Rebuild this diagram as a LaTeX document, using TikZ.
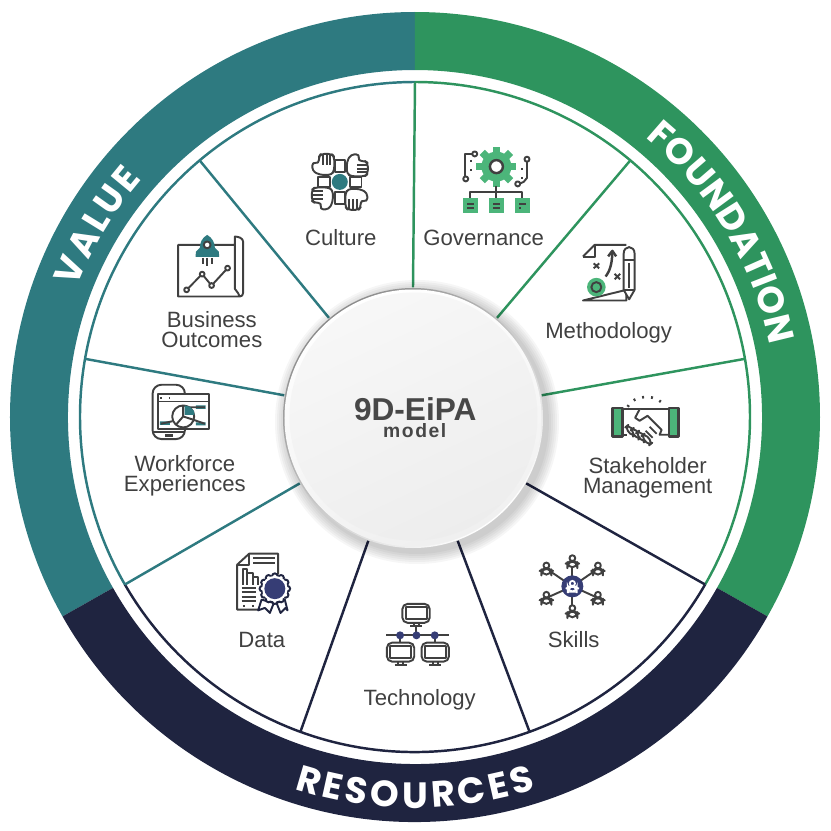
\documentclass[tikz,border=0pt]{standalone}
\usepackage{fontspec}
\usepackage{tikz}
\usetikzlibrary{decorations.text}
\setmainfont{Liberation Sans}
\newfontfamily\ringfont{Poppins}
\definecolor{mteal}{rgb}{0.18, 0.48, 0.50}
\definecolor{mgreen}{rgb}{0.18, 0.58, 0.37}
\definecolor{mnavy}{rgb}{0.12, 0.14, 0.25}
\definecolor{mleaf}{rgb}{0.30, 0.71, 0.48}
\definecolor{mblue}{rgb}{0.21, 0.24, 0.46}
\definecolor{mink}{rgb}{0.25, 0.25, 0.25}
\tikzset{
  iconline/.style = {draw = mink, line width = 0.55pt, line join = round},
  lbl/.style = {text = mink, inner sep = 0, align = center, font = \fontsize{6.3}{5.75}\selectfont},
  spoke/.style = {line width = 0.7pt},
  ringtext/.style = {decorate, decoration = {text along path, text align = fit to path, text color = white,
    text = {|\ringfont\bfseries\fontsize{#1}{12}\selectfont|}}},
}
\newcommand{\ringband}[3]{\fill [#1] (#2:4.05) arc (#2:#3:4.05) -- (#3:3.47) arc (#3:#2:3.47) -- cycle;}
\newcommand{\personpiece}[1]{%
  \draw [#1, fill = white] (0, -3.2) circle [radius = 2.9];
  \draw [#1, fill = white, rounded corners = 1.5] (-5, 6) -- (-5, 1.5) -- (-2, 0.2) -- (2, 0.2) -- (5, 1.5) -- (5, 6) -- cycle;
}
\newcommand{\monitorpiece}{%
  \draw [iconline, fill = white, rounded corners = 1.5] (-13.7, -9.5) rectangle (13.7, 9.5);
  \draw [iconline] (-10.5, -6.5) rectangle (10.5, 6);
  \draw [iconline] (-2.5, 9.5) -- (-2.5, 13) (2.5, 9.5) -- (2.5, 13) (-6, 13) -- (6, 13);
}
\begin{document}
\begin{tikzpicture}
  \useasboundingbox (-4.15, 4.17) rectangle (4.15, -4.14);

  \ringband{mteal}{90}{209.5}
  \ringband{mgreen}{90}{-29.5}
  \ringband{mnavy}{-29.5}{-150.5}
  \path [ringtext = 10.4] (159:3.62) arc (159:139:3.62) node [pos = 0] {};
  \path [decorate, decoration = {text along path, text align = fit to path, text color = white,
    text = {|\ringfont\bfseries\fontsize{10.4}{12}\selectfont|VALUE}}] (159:3.62) arc (159:139:3.62);
  \path [decorate, decoration = {text along path, text align = fit to path, text color = white,
    text = {|\ringfont\bfseries\fontsize{10.4}{12}\selectfont|FOUNDATION}}] (50.5:3.62) arc (50.5:11.5:3.62);
  \path [decorate, decoration = {text along path, text align = fit to path, text color = white,
    text = {|\ringfont\bfseries\fontsize{10.4}{12}\selectfont|RESOURCES}}] (252:3.91) arc (252:288:3.91);

  \draw [mteal, spoke] (90:3.35) arc (90:210:3.35);
  \draw [mgreen, spoke] (90:3.35) arc (90:-30:3.35);
  \draw [mnavy, spoke] (-30:3.35) arc (-30:-150:3.35);

  \node (hub) [circle, inner sep = 0, minimum size = 2.6cm] at (-0.02, -0.01) {};
  \foreach \a in {90, 50, 10}
    \draw [mgreen, spoke] (hub.\a) -- (\a:3.35);
  \foreach \a in {130, 170, 210}
    \draw [mteal, spoke] (hub.\a) -- (\a:3.35);
  \foreach \a in {-30, -70, -110}
    \draw [mnavy, spoke] (hub.\a) -- (\a:3.35);

  \foreach \r in {1.42, 1.40, ..., 1.30}
    \fill [black, opacity = 0.035] (0.02, -0.05) circle [radius = \r];
  \shade [left color = black!45, right color = white, shading angle = 40] (hub) circle [radius = 1.3];
  \shade [left color = white, right color = black!6, shading angle = 20] (hub) circle [radius = 1.285];
  \shade [top color = black!3, bottom color = black!7, shading angle = 25] (-0.015, 0.005) circle [radius = 1.24];

  \begin{scope}[shift = {(-4.15, 4.17)}, x = 0.01cm, y = -0.01cm]
    \node (title) [text = black!72, inner sep = 0, anchor = base, font = \bfseries\fontsize{9}{9}\selectfont] at (415.5, 420.5) {9D-EiPA};
    \node (subtitle) [text = black!72, inner sep = 0, anchor = base, font = \bfseries\fontsize{5.5}{6}\addfontfeature{LetterSpace = 8}\selectfont] at (415, 438) {model};

    \node (culture) [lbl, anchor = base] at (341, 246) {Culture};
    \node (governance) [lbl, anchor = base] at (484, 246) {Governance};
    \node (methodology) [lbl, anchor = base] at (609, 339) {Methodology};
    \node (stakeholder) [lbl] at (648, 478) {Stakeholder\\Management};
    \node (skills) [lbl, anchor = base] at (574, 648) {Skills};
    \node (technology) [lbl, anchor = base] at (420, 706) {Technology};
    \node (data) [lbl, anchor = base] at (262, 648) {Data};
    \node (workforce) [lbl] at (185, 476) {Workforce\\Experiences};
    \node (business) [lbl] at (212, 330) {Business\\Outcomes};

    % culture
    \foreach \r in {0, 90, 180, 270} {
      \begin{scope}[shift = {(340, 182)}, rotate = \r]
        \draw [iconline] (-5, -21.7) rectangle (5, -10);
        \draw [iconline, fill = white, rounded corners = 1] (-8, -7) -- (-5.5, -12) -- (-5.5, -25) -- (-8, -28) -- (-19, -28) -- (-21, -25) -- (-21, -18) -- (-27.5, -20) -- (-27.5, -11) -- (-20, -7) -- cycle;
        \draw [iconline] (-17, -27) -- (-17, -17) (-13, -27) -- (-13, -17) (-9.5, -27) -- (-9.5, -17);
      \end{scope}
    }
    \fill [mteal] (340, 182) circle [radius = 8];

    % governance
    \foreach \a in {0, 45, ..., 315}
      \fill [mleaf, rotate around = {\a:(496.7, 166.7)}] (493, 146.7) rectangle (500.4, 155);
    \fill [mleaf] (496.7, 166.7) circle [radius = 15];
    \draw [iconline, fill = white, line width = 0.7pt] (496.7, 166.7) circle [radius = 6.5];
    \draw [iconline] (472.5, 154) -- (465, 154) -- (465, 176.5);
    \draw [iconline, fill = white] (475, 154) circle [radius = 2.5] (466, 179) circle [radius = 2.5];
    \draw [iconline, dotted] (471.7, 160) -- (471.7, 171);
    \draw [iconline] (527.3, 162) -- (527.3, 178) -- (524, 182) -- (520.5, 183.5);
    \draw [iconline, fill = white] (527.3, 159.3) circle [radius = 2.5] (518, 184) circle [radius = 2.5];
    \draw [iconline, dotted] (522.7, 168) -- (522.7, 179);
    \draw [iconline] (496.7, 186) -- (496.7, 198) (470.7, 198) -- (470.7, 192) -- (522.7, 192) -- (522.7, 198);
    \foreach \x in {463.3, 489.3, 515.5}
      \fill [mleaf] (\x, 198.3) rectangle +(15, 15);
    \draw [iconline] (467.5, 204) -- (474, 204) (467.5, 208) -- (474, 208) (493.5, 204) -- (500, 204) (493.5, 208) -- (500, 208) (519.5, 204) -- (526, 204);
    \draw [iconline, dotted] (519.5, 208) -- (526, 208);

    % methodology
    \draw [iconline] (583.3, 256.7) -- (595, 245) -- (626.7, 245) (626.7, 290) -- (626.7, 300.7) -- (583.3, 300.7) -- cycle;
    \draw [iconline] (595, 245) -- (595, 256.7) -- (583.3, 256.7);
    \fill [mleaf] (596.7, 287.3) circle [radius = 9.3];
    \draw [iconline] (596.7, 287.3) circle [radius = 5];
    \draw [iconline] (594, 263.5) -- (599.5, 268.5) (599.5, 263.5) -- (594, 268.5) (615, 274) -- (620.5, 279.5) (620.5, 274) -- (615, 279.5);
    \draw [iconline, line width = 0.7pt] (606, 276.7) .. controls (611, 270) and (612.5, 262) .. (612.7, 252);
    \draw [iconline, line width = 0.7pt] (608.5, 256.5) -- (612.7, 251) -- (616.5, 256.5);
    \draw [iconline, fill = white] (624, 254) .. controls (624, 245) and (635, 245) .. (635, 254) -- (635, 290) -- (629.5, 299.5) -- (624, 290) -- cycle;
    \draw [iconline] (624, 260) -- (635, 260) (624, 290) -- (635, 290) (629.5, 263) -- (629.5, 288);

    % stakeholder management
    \draw [iconline, fill = mleaf, line width = 0.7pt] (612.7, 408.3) rectangle (622.7, 436.7);
    \draw [iconline, fill = mleaf, line width = 0.7pt] (669.3, 408.3) rectangle (679, 436.7);
    \draw [iconline, dotted, line width = 0.75pt] (628, 407) .. controls (634, 394) and (660, 394) .. (665, 407);
    \draw [iconline] (622.7, 409.5) -- (669.3, 409.5);
    \draw [iconline, fill = white] (640, 409.5) -- (635.5, 418) -- (640, 421) -- (648, 416) -- (662, 430) -- (660, 435) -- (669.3, 435);
    \draw [iconline] (622.7, 435) -- (627, 435);
    \foreach \i in {0, 1, 2, 3} {
      \draw [iconline, fill = white, rounded corners = 1.2, shift = {(631 + 5.4 * \i, 431 + 2.9 * \i)}, rotate = -50] (-6, -2.2) rectangle (6, 2.2);
    }
    \draw [iconline] (650, 427) -- (657, 434) (646, 431) -- (653, 438);

    % skills
    \foreach \x/\y in {572.7/561.7, 598.3/569, 598.3/598.3, 572.7/611.7, 546.7/598.3, 546.7/569}
      \draw [iconline] (572.7, 586.7) -- (\x, \y);
    \foreach \x/\y in {572.7/561.7, 598.3/569, 598.3/598.3, 572.7/611.7, 546.7/598.3, 546.7/569} {
      \begin{scope}[shift = {(\x, \y)}]
        \personpiece{iconline}
      \end{scope}
    }
    \fill [mblue] (572.7, 586.7) circle [radius = 11];
    \begin{scope}[shift = {(572.7, 586.7)}, scale = 0.9]
      \draw [white, line width = 0.5pt, fill = mblue] (0, -3.2) circle [radius = 2.9];
      \draw [white, line width = 0.5pt, rounded corners = 1.5] (-5, 6) -- (-5, 1.5) -- (-2, 0.2) -- (2, 0.2) -- (5, 1.5) -- (5, 6) -- cycle;
    \end{scope}

    % technology
    \draw [iconline] (386.7, 635.7) -- (449.3, 635.7) (416.7, 626) -- (416.7, 635.7) (400.3, 635.7) -- (400.3, 643.3) (435, 635.7) -- (435, 643.3);
    \foreach \x/\y in {416.3/613.7, 400.8/652.5, 435.5/652.5} {
      \begin{scope}[shift = {(\x, \y)}]
        \monitorpiece
      \end{scope}
    }
    \foreach \x in {400.3, 416.7, 435}
      \fill [mblue] (\x, 635.7) circle [radius = 4];

    % data
    \draw [iconline] (258, 610) -- (237.3, 610) -- (237.3, 565) -- (249.3, 554) -- (278.3, 554) -- (278.3, 575);
    \draw [iconline] (249.3, 554) -- (249.3, 565) -- (237.3, 565);
    \draw [iconline] (253.3, 558.3) -- (275, 558.3) (253.3, 563.3) -- (275, 563.3);
    \draw [iconline] (242.7, 585) -- (242.7, 569.3) -- (246.7, 569.3) -- (246.7, 585) (246.7, 573.3) -- (252.7, 573.3) -- (252.7, 585) (252.7, 577.7) -- (257.7, 577.7) -- (257.7, 585);
    \foreach \y in {588.3, 592.7, 597.3, 601.7}
      \draw [iconline] (241.7, \y) -- (256, \y);
    \draw [iconline, dotted] (243, 606.7) -- (254, 606.7);
    \draw [mnavy, line width = 0.55pt, fill = white, line join = round] (261.7, 600) -- (258.3, 610.7) -- (265, 608.3) -- (270, 613.3) -- (274, 603.3) -- cycle;
    \draw [mnavy, line width = 0.55pt, fill = white, line join = round] (276.7, 603.3) -- (280.7, 613.3) -- (285.7, 608.3) -- (287.7, 610.7) -- (285, 600) -- cycle;
    \foreach \a in {0, 30, ..., 330}
      \draw [mnavy, line width = 0.55pt, fill = white] (275, 589) ++(\a:12.5) circle [radius = 2.8];
    \fill [white] (275, 589) circle [radius = 12.8];
    \fill [mblue] (275, 589) circle [radius = 10.5];

    % workforce experiences
    \draw [iconline, rounded corners = 2.5] (152.7, 385) rectangle (185, 439.3);
    \draw [iconline] (152.7, 432) -- (185, 432);
    \draw [iconline, line width = 0.8pt] (165, 435.5) -- (173, 435.5);
    \draw [iconline, fill = white] (158.3, 394) rectangle (209, 429.3);
    \draw [iconline] (158.3, 401.7) -- (209, 401.7);
    \draw [iconline, dotted] (160, 397.8) -- (169, 397.8);
    \fill [mteal] (160, 421.7) rectangle (170, 425) (196, 405.7) rectangle (205.7, 409) (196, 422.7) rectangle (205.7, 425.5);
    \draw [iconline] (161, 424) -- (172.5, 421.5) (189, 407.5) -- (205, 407.5) (192, 419.5) -- (205, 424);
    \draw [iconline, fill = white] (183.3, 416.7) circle [radius = 11];
    \fill [mteal] (184.8, 415.2) -- (184.8, 405.7) -- (190, 407) -- (194, 411) -- (194.6, 415.2) -- cycle;
    \draw [iconline] (183.3, 405.7) -- (183.3, 416.7) -- (193.5, 420) (183.3, 416.7) -- (176, 425);

    % business outcomes
    \draw [iconline] (235, 245) -- (178.3, 245) -- (178.3, 296.7) -- (240, 296.7) .. controls (244, 296.7) and (243.3, 291) .. (243.3, 289) -- (243.3, 242) .. controls (243.3, 238) and (238, 236.7) .. (235, 236.7) -- (235, 289) -- (238, 293) -- (240, 296.7);
    \fill [mteal] (207.3, 235) .. controls (202, 238) and (200, 243) .. (200, 248) -- (196, 252) -- (195.7, 257) -- (219.3, 257) -- (219, 252) -- (215, 248) .. controls (215, 243) and (212.5, 238) .. (207.3, 235) -- cycle;
    \draw [iconline, fill = white] (207.3, 245) circle [radius = 3.4];
    \draw [iconline, dashed, dash pattern = on 4pt off 1pt] (202.7, 258) -- (202.7, 264) (207.3, 258) -- (207.3, 266) (212.3, 258) -- (212.3, 264);
    \draw [iconline, fill = white] (186.7, 290) -- (202.3, 274.3) -- (211.7, 285.7) -- (227.7, 268.3);
    \foreach \x/\y in {186.7/290, 202.3/274.3, 211.7/285.7, 227.7/268.3}
      \draw [iconline, fill = white] (\x, \y) circle [radius = 2.4];
  \end{scope}
\end{tikzpicture}
\end{document}
